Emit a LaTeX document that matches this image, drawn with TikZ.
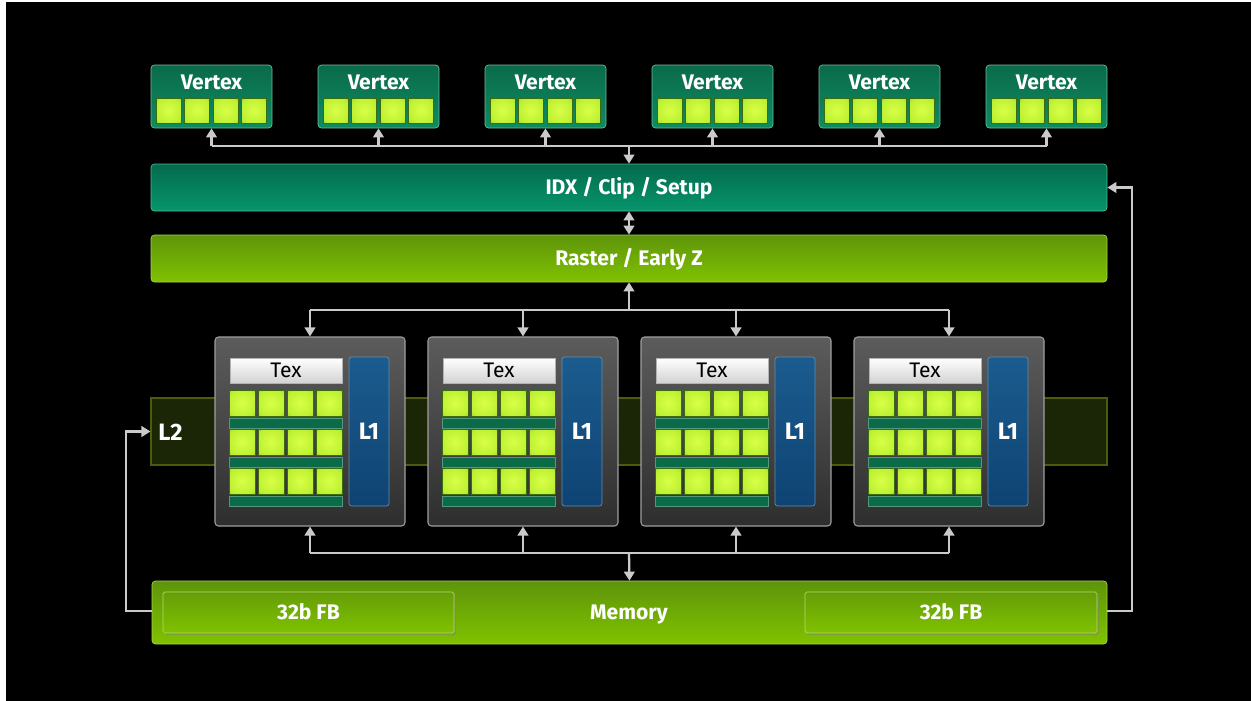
\documentclass[tikz,border=0pt]{standalone}
\usepackage{fontspec}
\setmainfont{Fira Sans}
\usetikzlibrary{fit,arrows.meta,shadows,calc}

\definecolor{vtop}{HTML}{0A6A4A}
\definecolor{vbot}{HTML}{0E8C60}
\definecolor{idxtop}{HTML}{036A4C}
\definecolor{idxbot}{HTML}{07966C}
\definecolor{rtop}{HTML}{5E940A}
\definecolor{rbot}{HTML}{80C200}
\definecolor{glowin}{HTML}{D8FF48}
\definecolor{glowmid}{HTML}{BDF030}
\definecolor{glowout}{HTML}{62B41E}
\definecolor{stripc}{HTML}{0B6A48}
\definecolor{smtop}{HTML}{5C5C5C}
\definecolor{smbot}{HTML}{2E2E2E}
\definecolor{l1top}{HTML}{1B5C8E}
\definecolor{l1bot}{HTML}{0E4373}
\definecolor{l2fill}{HTML}{1B2607}
\definecolor{l2edge}{HTML}{4A5C0E}
\definecolor{wirec}{HTML}{CACACA}

\pgfdeclareradialshading{glow}{\pgfpoint{0bp}{0bp}}{%
  color(0bp)=(glowin); color(28bp)=(glowmid); color(50bp)=(glowout); color(75bp)=(glowout)}

\tikzset{
  px/.style={x=0.02cm,y=-0.02cm},
  lbl/.style={text=white, font=\bfseries\fontsize{12}{14}\selectfont, inner sep=0pt, text height=8.4pt, text depth=0pt},
  biglbl/.style={text=white, font=\bfseries\fontsize{13.5}{15}\selectfont, inner sep=0pt, text height=9.4pt, text depth=0pt},
  texlbl/.style={text=black, font=\fontsize{12}{14}\selectfont, inner sep=0pt, text height=8.4pt, text depth=0pt},
  vbox/.style={inner sep=0pt, rounded corners=2pt, top color=vtop, bottom color=vbot, draw=vbot!60!white, line width=0.4pt},
  idxbar/.style={inner sep=0pt, rounded corners=2pt, top color=idxtop, bottom color=idxbot, draw=idxbot!70!white, line width=0.4pt},
  limebar/.style={inner sep=0pt, rounded corners=2pt, top color=rtop, bottom color=rbot, draw=rbot!70!white, line width=0.4pt},
  fbbox/.style={inner sep=0pt, rounded corners=1pt, top color=rtop!80!rbot, bottom color=rbot, draw=rbot!60!white, line width=0.4pt,
    drop shadow={opacity=0.45, shadow xshift=1pt, shadow yshift=-1.2pt}},
  l2band/.style={inner sep=0pt, fill=l2fill, draw=l2edge, line width=0.6pt},
  smbox/.style={inner sep=0pt, rounded corners=2pt, top color=smtop, bottom color=smbot, draw=gray!75, line width=0.6pt},
  texbox/.style={inner sep=0pt, top color=white, bottom color=gray!35, draw=gray!60, line width=0.4pt},
  l1box/.style={inner sep=0pt, rounded corners=1.5pt, top color=l1top, bottom color=l1bot, draw=l1top!70!white, line width=0.4pt},
  stripbox/.style={fill=stripc, draw=stripc!70!white, line width=0.3pt},
  glowsq/.style={shading=glow, draw=glowout!60!black, line width=0.3pt},
  wire/.style={draw=wirec, line width=1.3pt},
  arr/.style={wire, -{Triangle[length=1.8mm,width=2.1mm]}},
  darr/.style={wire, {Triangle[length=1.8mm,width=2.1mm]}-{Triangle[length=1.8mm,width=2.1mm]}},
}

\begin{document}
\begin{tikzpicture}[px]
\useasboundingbox (0,0) rectangle (1251,700);
\fill[white] (0,0) rectangle (1251,700);
\fill[black] (6,2) rectangle (1270,720);

% vertex units
\foreach \i in {0,...,5} {
  \pgfmathsetmacro\vx{151+167*\i}
  \node[vbox, fit={(\vx,65) (\vx+121,128)}] (v\i) {};
  \node[lbl] (vt\i) at (\vx+60.5,82) {Vertex};
  \foreach \k in {0,...,3}
    \path[glowsq] (\vx+5+28.5*\k,98) rectangle ++(25,25);
}

% front-end bars
\node[idxbar, fit={(151,164) (1107,211)}] (idx) {};
\node[lbl] (idxt) at (idx.center) {IDX / Clip / Setup};
\node[limebar, fit={(151,235) (1107,282)}] (raster) {};
\node[lbl] (rastert) at (raster.center) {Raster / Early Z};

% L2 band behind the SMs
\node[l2band, fit={(151,398) (1107,465)}] (l2) {};
\node[biglbl, anchor=west] (l2t) at (158,432) {L2};

% SM blocks
\foreach \i in {0,...,3} {
  \pgfmathsetmacro\sx{215+213*\i}
  \node[smbox, fit={(\sx,337) (\sx+190,526)}] (sm\i) {};
  \node[texbox, fit={(\sx+15,358) (\sx+127,383)}] (tex\i) {};
  \node[texlbl] (text\i) at (tex\i.center) {Tex};
  \node[l1box, fit={(\sx+134,357) (\sx+174,506)}] (l1\i) {};
  \node[biglbl] (l1t\i) at (l1\i.center) {L1};
  \foreach \r/\sy in {0/390, 1/429, 2/468} {
    \foreach \k in {0,...,3}
      \path[glowsq] (\sx+14+29*\k,\sy) rectangle ++(26,26);
    \path[stripbox] (\sx+14,\sy+28) rectangle (\sx+127,\sy+38);
  }
}

% memory
\node[limebar, fit={(152,581) (1107,644)}] (mem) {};
\node[fbbox, fit={(163,592) (454,633)}] (fbl) {};
\node[fbbox, fit={(805,592) (1097,633)}] (fbr) {};
\node[lbl] (fblt) at (fbl.center) {32b FB};
\node[lbl] (fbrt) at (fbr.center) {32b FB};
\node[lbl] (memt) at (629,612) {Memory};

% vertex bus
\coordinate (tbus) at (629,146);
\draw[wire] (v0.south |- tbus) -- (v5.south |- tbus);
\foreach \i in {0,...,5}
  \draw[arr] (v\i.south |- tbus) -- (v\i.south);
\draw[arr] (tbus) -- (idx.north);
\draw[darr] (idx.south) -- (raster.north);

% raster to SMs
\coordinate (mbus) at (629,310);
\draw[wire] (sm0.north |- mbus) -- (sm3.north |- mbus);
\draw[arr] (mbus) -- (raster.south);
\foreach \i in {0,...,3}
  \draw[arr] (sm\i.north |- mbus) -- (sm\i.north);

% SMs to memory
\coordinate (bbus) at (629,553);
\draw[wire] (sm0.south |- bbus) -- (sm3.south |- bbus);
\foreach \i in {0,...,3}
  \draw[arr] (sm\i.south |- bbus) -- (sm\i.south);
\draw[arr] (bbus) -- (mem.north);

% return paths
\coordinate (lc) at (126,611);
\coordinate (rc) at (1132,611);
\draw[arr] (mem.west |- lc) -- (lc) |- (l2.west);
\draw[arr] (mem.east |- rc) -- (rc) |- (idx.east);
\end{tikzpicture}
\end{document}
